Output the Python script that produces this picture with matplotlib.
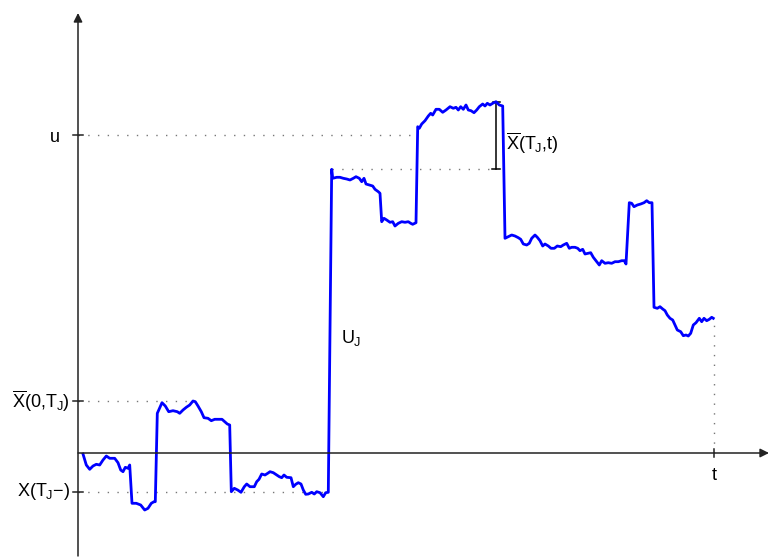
import matplotlib
matplotlib.use("Agg")
import matplotlib.pyplot as plt

plt.rcParams['font.family'] = ['Liberation Sans', 'DejaVu Sans']
plt.rcParams['mathtext.fontset'] = 'custom'
plt.rcParams['mathtext.rm'] = 'Liberation Sans'
plt.rcParams['mathtext.it'] = 'Liberation Sans'
plt.rcParams['mathtext.bf'] = 'Liberation Sans'

# ---- data (arbitrary units) ----
time = [5, 8.3, 11.7, 15, 18.3, 21.7, 25, 28.3, 31.7, 36.7, 40, 42.7, 45, 47.3, 50, 51.7,
        54, 58.3, 62.7, 66.7, 70, 73.3, 76, 77.3,
        79.3, 84, 87.3, 90.7, 95, 99.3, 101.7, 105, 108.3, 111.7, 115, 117.3, 120, 123.3,
        126, 130, 133.3, 136.7, 140, 144, 146.7, 149.3, 151.7,
        153.3, 156.3, 159.7, 163, 166.3, 168.7, 172, 176.3, 178.7, 181, 183.7, 187, 189.7,
        192, 195.3, 198.7, 201.3, 203.7, 206, 208.7, 213, 215.3, 217.7, 220.3, 223, 225.3,
        227.7, 230.3, 233.7, 236.3, 238.7, 242, 245.3, 247.7, 250.3,
        253.7, 254.7, 258.7, 262, 265.3, 268.7, 272, 275.3, 278, 281.3, 283.7, 286, 288,
        291.3, 294.7, 297, 300.3, 302,
        303.7, 306, 308.7, 312, 314.7, 317, 320.3, 323.7, 327, 330.3, 332.7, 334.7, 338,
        339.7, 341.3, 343.7, 347, 350.3, 352.7, 354.7, 358, 361.3, 364.7, 368, 372, 375.3,
        378, 380.3, 382.7, 385.3, 388, 390.3, 393, 396, 398.7, 401.3, 404.7, 407, 409.3,
        412, 414.7, 418, 421.3, 424.7,
        427, 430.3, 433.7, 437, 440.3, 442.7, 445.3, 448.7, 451.3, 453.7, 457, 459.3, 462,
        464.7, 467, 470.3, 473, 476.3, 479.3, 482.7, 485.3, 488.7, 491.3, 493.7, 497, 499.7,
        502, 504.7, 507, 510.3, 512.7, 515.3, 518, 521.3, 523.7, 527, 530.3, 533.7, 537,
        540.3, 543.7, 546.3, 548,
        551.3, 553.7, 556, 559.3, 562.7, 566, 568.7, 571.3, 574,
        576, 579.3, 582, 584.7, 587, 589.3, 592, 594.7, 597, 599.3, 602.7, 605.3, 608,
        610.3, 612.7, 615.3, 618, 621.3, 623.7, 626, 628.7, 631.3, 633.7, 635.3]
level = [-1, -12, -16.3, -13, -11.3, -12, -7, -3, -5.3, -5.3, -9.7, -17, -18.7, -14.3, -15.3, -12,
         -50.3, -50.3, -52, -57, -55.3, -50.3, -48.7, -48.7,
         39.7, 50.3, 47, 41.3, 42.3, 41.3, 39.7, 43, 45.7, 48, 52, 51.3, 47, 41.3,
         35.3, 34.7, 32.3, 33.7, 33.7, 33.7, 31.3, 29, 28,
         -38.7, -35.3, -37, -39.3, -33.7, -31, -33.7, -33.7, -28.7, -26.3, -21, -22, -20.3,
         -18.7, -19.7, -22, -23.7, -24.7, -22, -24.3, -24.7, -33.7, -31.3, -29.7, -31, -37,
         -41.3, -41, -39.3, -41, -38.7, -39.7, -43.7, -39.7, -39.3,
         283.7, 274.7, 275.7, 275.7, 274.7, 274, 273, 274.7, 276.3, 274.7, 271.3, 274.7, 269,
         268, 267, 263.7, 261.3, 259.7,
         231.3, 234.7, 233, 230.7, 231.3, 227, 229.7, 231.3, 230.7, 231.3, 229.7, 228.7, 230.3,
         326.3, 324.7, 329, 332.3, 337, 339.7, 338, 343.7, 343.7, 340.7, 343, 346.3, 344.7,
         345.7, 343, 346.3, 343.7, 348, 343, 342.3, 340.3, 343, 346.3, 349, 347, 349.7,
         348, 349.7, 351.3, 348, 347,
         214.7, 216.3, 218, 217, 215.3, 213.7, 209, 208, 209.7, 214.7, 218, 215.7, 212.3,
         207, 209, 207, 204.7, 204.7, 207, 206.3, 208, 209.7, 204.7, 205.7, 205.7, 204.7,
         202.3, 203.7, 199, 199.7, 200.3, 195.7, 192.3, 188, 192.3, 189.7, 190.3, 189.7, 191.3,
         191.3, 192.3, 192.3, 189,
         250.3, 249.7, 246.3, 248, 249, 250.3, 252.3, 250.3, 250.3,
         145.7, 144.7, 146.3, 144, 142.3, 138, 134.7, 133, 128, 123, 121.3, 117.3, 118,
         117, 119.7, 128, 130.3, 134.7, 131.3, 134.7, 132.3, 133.7, 135.7, 134.7]

u_level = 318
sup_before = 52      # X̄(0, T_J)
x_before = -39       # X(T_J-)
t_jump = 253
level_after = 284    # X(T_J)
t_max = 418
level_max = 351.3
t_end = 636
y_end = 134.7

fig = plt.figure(figsize=(7.69, 5.58), dpi=100)
ax = fig.add_axes([0, 0, 1, 1])
ax.set_xlim(-78, 691)
ax.set_ylim(-105, 453)
ax.axis('off')

axis_col = '#222222'
# axes with arrows
ax.annotate('', xy=(0, 440), xytext=(0, -103),
            arrowprops=dict(arrowstyle='-|>', color=axis_col, lw=1.1,
                            mutation_scale=13, shrinkA=0, shrinkB=0))
ax.annotate('', xy=(691, 0), xytext=(0, 0),
            arrowprops=dict(arrowstyle='-|>', color=axis_col, lw=1.1,
                            mutation_scale=13, shrinkA=0, shrinkB=0))

dot = dict(color='#777777', lw=1.0, linestyle=(0, (1, 6)))
ax.plot([0, 337], [u_level, u_level], **dot)
ax.plot([0, 117], [sup_before, sup_before], **dot)
ax.plot([0, 250], [x_before, x_before], **dot)
ax.plot([254, 413], [level_after, level_after], **dot)
ax.plot([t_end, t_end], [0, y_end], **dot)

# ticks
for yv in (u_level, sup_before, x_before):
    ax.plot([-5, 5], [yv, yv], color=axis_col, lw=1.1)
ax.plot([t_end, t_end], [-4, 4], color=axis_col, lw=1.1)

# bracket
ax.plot([t_max - 3, t_max + 4], [level_max, level_max], color='black', lw=1.1)
ax.plot([t_max - 4, t_max + 4], [level_after, level_after], color='black', lw=1.1)
ax.plot([t_max, t_max], [level_after, level_max], color='black', lw=1.1)

# path
ax.plot(time, level, color='#0000ff', lw=2.0, solid_joinstyle='round')

fs = 13
ax.text(-23, u_level - 2, 'u', fontsize=fs, ha='center', va='center')
ax.text(-8, sup_before, r'$\overline{X}(0{,}T_J)$', fontsize=fs, ha='right', va='center')
ax.text(-8, x_before, r'$X(T_J{-})$', fontsize=fs, ha='right', va='center')
ax.text(t_end, -23, 't', fontsize=fs, ha='center', va='center')
ax.text(263, 115, r'$U_J$', fontsize=fs, ha='left', va='center')
ax.text(428, 310, r'$\overline{X}(T_J{,}t)$', fontsize=fs, ha='left', va='center')

fig.savefig('out.png', dpi=100)
